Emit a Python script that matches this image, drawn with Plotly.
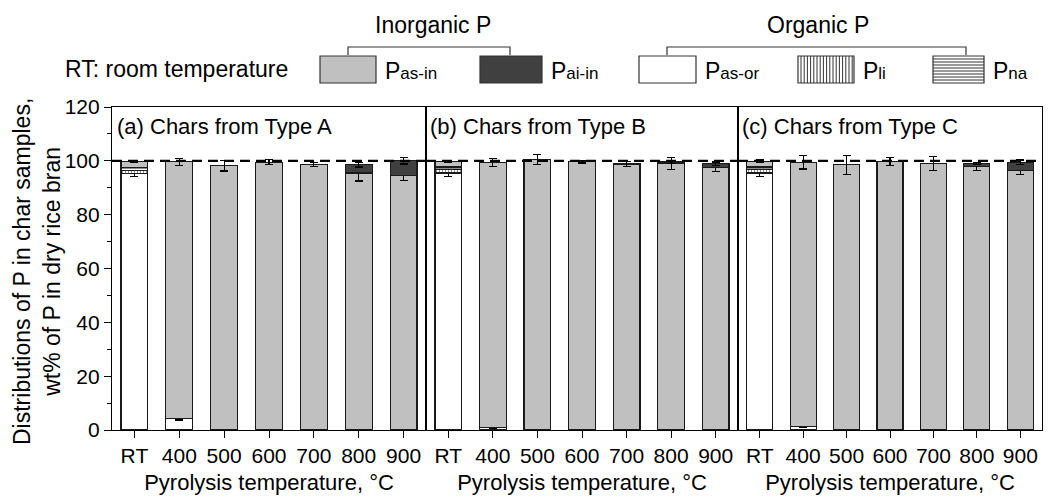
import plotly.graph_objects as go

# ---- data -------------------------------------------------------------
temps = ["RT", "400", "500", "600", "700", "800", "900"]
panel_titles = ["(a) Chars from Type A", "(b) Chars from Type B", "(c) Chars from Type C"]

# Type A
pas_or_a = [95.3, 4.3, None, None, None, None, None]
pas_or_err_a = [1.2, 0.6, None, None, None, None, None]
pli_a = [1.2, None, None, None, None, None, None]
pna_a = [1.0, None, None, None, None, None, None]
pas_in_a = [2.2, 95.4, 98.2, 99.5, 98.6, 95.5, 94.5]
pas_in_err_a = [0.4, 1.3, 2.0, 1.0, 0.8, 3.0, 1.8]
pai_in_a = [None, None, None, None, None, 3.0, 5.5]
pai_in_err_a = [None, None, None, None, None, 0.8, 1.2]

# Type B
pas_or_b = [95.5, 0.8, None, None, None, None, None]
pas_or_err_b = [1.3, 0.2, None, None, None, None, None]
pli_b = [1.2, None, None, None, None, None, None]
pna_b = [1.0, None, None, None, None, None, None]
pas_in_b = [2.0, 98.7, 100.5, 99.7, 98.8, 99.0, 97.5]
pas_in_err_b = [0.4, 1.5, 1.8, 0.5, 1.0, 2.2, 1.5]
pai_in_b = [None, None, None, None, None, 0.6, 1.5]
pai_in_err_b = [None, None, None, None, None, 0.5, 0.6]

# Type C
pas_or_c = [95.5, 1.2, None, None, None, None, None]
pas_or_err_c = [1.3, 0.3, None, None, None, None, None]
pli_c = [1.2, None, None, None, None, None, None]
pna_c = [1.0, None, None, None, None, None, None]
pas_in_c = [2.2, 98.3, 98.5, 99.7, 99.0, 98.0, 96.5]
pas_in_err_c = [0.4, 2.5, 3.5, 1.5, 2.5, 1.5, 1.5]
pai_in_c = [None, None, None, None, None, 1.0, 3.0]
pai_in_err_c = [None, None, None, None, None, 0.5, 0.8]

panels = [
    (pas_or_a, pas_or_err_a, pli_a, pna_a, pas_in_a, pas_in_err_a, pai_in_a, pai_in_err_a),
    (pas_or_b, pas_or_err_b, pli_b, pna_b, pas_in_b, pas_in_err_b, pai_in_b, pai_in_err_b),
    (pas_or_c, pas_or_err_c, pli_c, pna_c, pas_in_c, pas_in_err_c, pai_in_c, pai_in_err_c),
]

# ---- styling ----------------------------------------------------------
FONT = "Liberation Sans, Arial, sans-serif"
GREY = "#C0C0C0"
DARK = "#404040"
EDGE = "#1a1a1a"

W, H = 1054, 497
L, R, T, B = 112, 12, 107, 67
PW, PH = W - L - R, H - T - B
edges = [112, 426, 738, 1042]
domains = [[(edges[i] - L) / PW, (edges[i + 1] - L) / PW] for i in range(3)]


def px(x):
    return (x - L) / PW


def py(y):
    return (H - B - y) / PH


def err(vals):
    return dict(type="data", array=vals, visible=True, color="black",
                thickness=1.2, width=4)


fig = go.Figure()

for i, (p_or, e_or, p_li, p_na, p_in, e_in, p_ai, e_ai) in enumerate(panels):
    xa = "x" if i == 0 else f"x{i + 1}"
    ya = "y" if i == 0 else f"y{i + 1}"
    common = dict(x=temps, xaxis=xa, yaxis=ya, showlegend=False, width=0.6)
    fig.add_trace(go.Bar(y=p_or, name="Pas-or", error_y=err(e_or),
                         marker=dict(color="white", line=dict(color=EDGE, width=1.2)), **common))
    fig.add_trace(go.Bar(y=p_li, name="Pli",
                         marker=dict(color="white", line=dict(color=EDGE, width=1.2),
                                     pattern=dict(shape="|", fgcolor="black", bgcolor="white",
                                                  size=3, solidity=0.3)), **common))
    fig.add_trace(go.Bar(y=p_na, name="Pna",
                         marker=dict(color="white", line=dict(color=EDGE, width=1.2),
                                     pattern=dict(shape="-", fgcolor="black", bgcolor="white",
                                                  size=3, solidity=0.3)), **common))
    fig.add_trace(go.Bar(y=p_in, name="Pas-in", error_y=err(e_in),
                         marker=dict(color=GREY, line=dict(color=EDGE, width=1.2)), **common))
    fig.add_trace(go.Bar(y=p_ai, name="Pai-in", error_y=err(e_ai),
                         marker=dict(color=DARK, line=dict(color=EDGE, width=1.2)), **common))

axis_font = dict(family=FONT, size=21, color="black")
for i in range(3):
    sx = "" if i == 0 else str(i + 1)
    fig.layout[f"xaxis{sx}"] = dict(
        domain=domains[i], anchor=f"y{sx}", type="category",
        showline=True, linecolor="black", linewidth=1.2, mirror=True,
        ticks="outside", ticklen=7, tickcolor="black", tickwidth=1.2,
        tickfont=axis_font, showgrid=False, zeroline=False,
        title=dict(text="Pyrolysis temperature, °C", font=dict(family=FONT, size=22, color="black"),
                   standoff=8),
    )
    fig.layout[f"yaxis{sx}"] = dict(
        domain=[0, 1], anchor=f"x{sx}", range=[0, 120],
        showline=True, linecolor="black", linewidth=1.2, mirror=True,
        showgrid=False, zeroline=False,
        ticks="outside" if i == 0 else "", ticklen=7, tickcolor="black", tickwidth=1.2,
        tickvals=[0, 20, 40, 60, 80, 100, 120], showticklabels=(i == 0), tickfont=axis_font,
        minor=dict(dtick=10, ticks="outside" if i == 0 else "", ticklen=4,
                   tickcolor="black", tickwidth=1.2),
    )
    # reference level of 100 wt%
    fig.add_shape(type="line", xref=f"x{sx} domain", yref=f"y{sx}", x0=0, x1=1, y0=100, y1=100,
                  line=dict(color="black", width=2.2, dash="10px,6px"), layer="above")
    fig.add_annotation(text=panel_titles[i], xref=f"x{sx} domain", yref=f"y{sx}", x=0.008, y=112.6,
                       xanchor="left", yanchor="middle", showarrow=False,
                       font=dict(family=FONT, size=22, color="black"))

# y-axis title
fig.add_annotation(text="Distributions of P in char samples,<br>wt% of P in dry rice bran",
                   xref="paper", yref="paper", x=px(37), y=py(272), textangle=-90,
                   xanchor="center", yanchor="middle", showarrow=False,
                   font=dict(family=FONT, size=23, color="black"))

# ---- custom legend ----------------------------------------------------
leg_font = dict(family=FONT, size=23, color="black")
box_top, box_bot = 56, 83
legend_boxes = [
    ("Pas-in", "as-in", 320, 376, GREY, None),
    ("Pai-in", "ai-in", 480, 542, DARK, None),
    ("Pas-or", "as-or", 639, 696, "white", None),
    ("Pli", "li", 798, 854, "white", "v"),
    ("Pna", "na", 933, 984, "white", "h"),
]
for name, sub, x0, x1, col, hatch in legend_boxes:
    fig.add_shape(type="rect", xref="paper", yref="paper", x0=px(x0), x1=px(x1),
                  y0=py(box_bot), y1=py(box_top), fillcolor=col,
                  line=dict(color="#333333", width=1.2))
    if hatch == "v":
        xx = x0 + 3
        while xx < x1 - 1:
            fig.add_shape(type="line", xref="paper", yref="paper", x0=px(xx), x1=px(xx),
                          y0=py(box_bot), y1=py(box_top), line=dict(color="#333333", width=1))
            xx += 3.2
    elif hatch == "h":
        yy = box_top + 3
        while yy < box_bot - 1:
            fig.add_shape(type="line", xref="paper", yref="paper", x0=px(x0), x1=px(x1),
                          y0=py(yy), y1=py(yy), line=dict(color="#333333", width=1))
            yy += 3
    fig.add_annotation(text=f'P<span style="font-size:17px">{sub}</span>',
                       xref="paper", yref="paper", x=px(x1 + 7), y=py(71),
                       xanchor="left", yanchor="middle", showarrow=False, font=leg_font)

fig.add_annotation(text="RT: room temperature", xref="paper", yref="paper", x=px(176), y=py(69),
                   xanchor="center", yanchor="middle", showarrow=False, font=leg_font)

# group brackets
for label, xa, xb, xc in [("Inorganic P", 348, 510, 433), ("Organic P", 667, 966, 818)]:
    fig.add_shape(type="path", xref="paper", yref="paper",
                  path=f"M {px(xa)},{py(55)} L {px(xa)},{py(47)} L {px(xb)},{py(47)} L {px(xb)},{py(55)}",
                  line=dict(color="#333333", width=1.2))
    fig.add_annotation(text=label, xref="paper", yref="paper", x=px(xc), y=py(25),
                       xanchor="center", yanchor="middle", showarrow=False, font=leg_font)

fig.update_layout(
    barmode="stack",
    width=W, height=H,
    margin=dict(l=L, r=R, t=T, b=B, autoexpand=False),
    paper_bgcolor="white", plot_bgcolor="white",
    font=dict(family=FONT, color="black"),
)

fig.write_html("out.html")
